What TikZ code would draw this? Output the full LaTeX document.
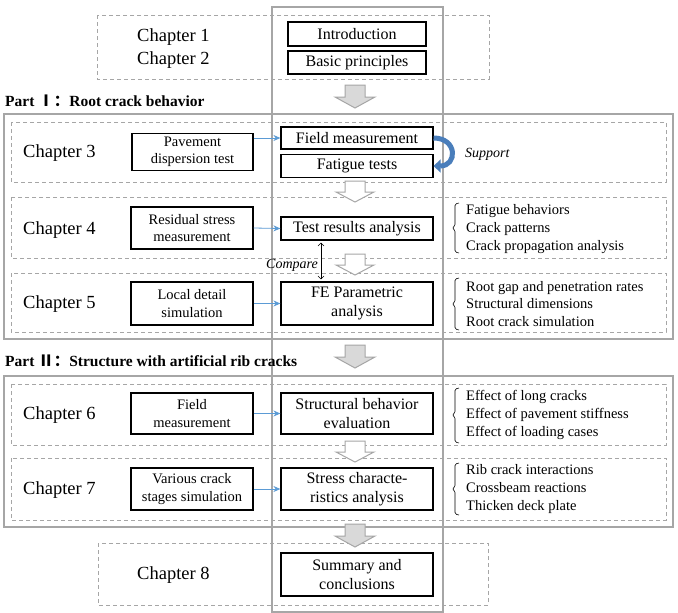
\documentclass[tikz,border=0pt]{standalone}
\usepackage{fontspec}
\setmainfont{Liberation Serif}
\newfontfamily\cjkfont{Noto Sans CJK SC}
\usetikzlibrary{arrows.meta}
\definecolor{framegray}{HTML}{A6A6A6}
\definecolor{arrowfill}{HTML}{D9D9D9}
\definecolor{linkblue}{HTML}{5B9BD5}
\definecolor{supblue}{HTML}{4A7EBB}
\begin{document}
\begin{tikzpicture}[x=1pt,y=-1pt,
  dashbox/.style={draw=framegray, line width=1pt, dash pattern=on 4pt off 3pt},
  partbox/.style={draw=framegray, line width=2pt},
  cbox/.style={draw=black, line width=1.2pt, inner sep=0pt, align=center,
    font=\fontsize{16}{19}\selectfont, minimum width=152pt},
  lbox/.style={draw=black, line width=1.2pt, inner sep=0pt, align=center,
    font=\fontsize{14.5}{17.5}\selectfont, minimum width=122pt},
  chap/.style={anchor=west, inner sep=0pt, font=\fontsize{18.5}{23}\selectfont},
  partlabel/.style={anchor=west, inner sep=0pt, font=\fontsize{15.5}{18}\selectfont\bfseries},
  rtext/.style={anchor=west, inner sep=0pt, align=left, font=\fontsize{14.5}{17.7}\selectfont},
  itext/.style={inner sep=0pt, font=\fontsize{14}{16}\selectfont\itshape},
  brk/.style={draw=black, line width=0.6pt, rounded corners=1.5pt},
  link/.style={draw=linkblue, line width=0.8pt, -{Stealth[length=7pt,width=6pt]}},
  supportarr/.style={draw=supblue, line width=5pt, -{Triangle[width=13pt,length=7pt]}},
  cmparr/.style={draw=black, line width=0.6pt, {Straight Barb[length=3pt,width=6pt]}-{Straight Barb[length=3pt,width=6pt]}},
  garrow/.pic={\path[draw=framegray, fill=arrowfill, line width=1pt]
    (-10,0) -- (10,0) -- (10,12) -- (20,12) -- (0,23) -- (-20,12) -- (-10,12) -- cycle;},
  warrow/.pic={\path[draw=framegray, fill=white, line width=1pt]
    (-10,0) -- (10,0) -- (10,11) -- (19,11) -- (0,21) -- (-19,11) -- (-10,11) -- cycle;}
]
\useasboundingbox (0,0) rectangle (678,613);
\fill[white] (0,0) rectangle (678,613);

% dashed chapter frames
\draw[dashbox] (97,15) rectangle (489,79);
\draw[dashbox] (11,122) rectangle (666,182);
\draw[dashbox] (11,197) rectangle (666,258);
\draw[dashbox] (11,273) rectangle (666,332);
\draw[dashbox] (11,384) rectangle (666,445);
\draw[dashbox] (11,458) rectangle (666,520);
\draw[dashbox] (98,543) rectangle (488,605);

% part frames
\draw[partbox] (4,114) rectangle (673,339);
\draw[partbox] (4,376) rectangle (673,527);

% block arrows
\pic at (355,85) {garrow};
\pic at (355,345) {garrow};
\pic at (355,524) {garrow};
\pic at (355,181) {warrow};
\pic at (355,254) {warrow};
\pic at (355,441) {warrow};

% central column frame
\draw[partbox] (272,7) rectangle (443,612);

% part labels
\node[partlabel] (p1) at (5,101) {Part {\cjkfont Ⅰ：}Root crack behavior};
\node[partlabel] (p2) at (5,361) {Part {\cjkfont Ⅱ：}Structure with artificial rib cracks};

% chapter labels
\node[chap] (c1) at (137,37) {Chapter 1};
\node[chap] (c2) at (137,60) {Chapter 2};
\node[chap] (c3) at (23,153) {Chapter 3};
\node[chap] (c4) at (23,230) {Chapter 4};
\node[chap] (c5) at (23,304) {Chapter 5};
\node[chap] (c6) at (23,415) {Chapter 6};
\node[chap] (c7) at (23,490) {Chapter 7};
\node[chap] (c8) at (137,575) {Chapter 8};

% central boxes
\node[cbox, minimum width=138pt, minimum height=24pt] (intro) at (357,34) {Introduction};
\node[cbox, minimum width=138pt, minimum height=23pt] (basic) at (357,62.5) {Basic principles};
\node[cbox, minimum height=22pt] (fm) at (357,138) {Field measurement};
\node[cbox, minimum height=23pt] (ft) at (357,166) {Fatigue tests};
\node[cbox, minimum height=23pt] (tra) at (357,228.5) {Test results analysis};
\node[cbox, minimum height=43pt] (fe) at (357,303.5) {FE Parametric\\analysis};
\node[cbox, minimum height=41pt] (sbe) at (357,413.5) {Structural behavior\\evaluation};
\node[cbox, minimum height=42pt] (sca) at (357,489) {Stress characte-\\ristics analysis};
\node[cbox, minimum height=43pt] (sc) at (357,574.5) {Summary and\\conclusions};

% left boxes
\node[lbox, minimum width=121pt, minimum height=37pt] (pdt) at (192.5,152) {Pavement\\dispersion test};
\node[lbox, minimum height=42pt] (rsm) at (192,228) {Residual stress\\measurement};
\node[lbox, minimum height=43pt] (lds) at (192,303.5) {Local detail\\simulation};
\node[lbox, minimum height=41pt] (fm6) at (192,413.5) {Field\\measurement};
\node[lbox, minimum height=42pt] (vcs) at (192,489) {Various crack\\stages simulation};

% blue links
\draw[link] (pdt.east |- fm.west) -- (fm.west);
\draw[link] (rsm.east) -- (tra.west);
\draw[link] (lds.east) -- (fe.west);
\draw[link] (fm6.east) -- (sbe.west);
\draw[link] (vcs.east) -- (sca.west);

% support arrow
\draw[supportarr] (fm.east) .. controls +(24,0) and +(24,0) .. (ft.east);
\node[itext, anchor=west] (sup) at (465,154) {Support};

% compare arrow
\draw[cmparr, shorten <=2pt, shorten >=2pt] ([xshift=-36pt]tra.south) -- ([xshift=-36pt]fe.north);
\node[itext, anchor=east] (cmp) at (318,265) {Compare};

% right brackets and lists
\draw[brk] (459,203) -- (455,204) -- (455,226) -- (452,228) -- (455,230) -- (455,252) -- (459,253);
\node[rtext] (l4) at (466,229) {Fatigue behaviors\\Crack patterns\\Crack propagation analysis};
\draw[brk] (459,278) -- (455,279) -- (455,302) -- (452,304) -- (455,306) -- (455,329) -- (459,330);
\node[rtext] (l5) at (466,304) {Root gap and penetration rates\\Structural dimensions\\Root crack simulation};
\draw[brk] (459,388) -- (455,389) -- (455,413) -- (452,415) -- (455,417) -- (455,442) -- (459,443);
\node[rtext] (l6) at (466,415) {Effect of long cracks\\Effect of pavement stiffness\\Effect of loading cases};
\draw[brk] (459,463) -- (455,464) -- (455,487) -- (452,489) -- (455,491) -- (455,514) -- (459,515);
\node[rtext] (l7) at (466,489) {Rib crack interactions\\Crossbeam reactions\\Thicken deck plate};
\end{tikzpicture}
\end{document}
